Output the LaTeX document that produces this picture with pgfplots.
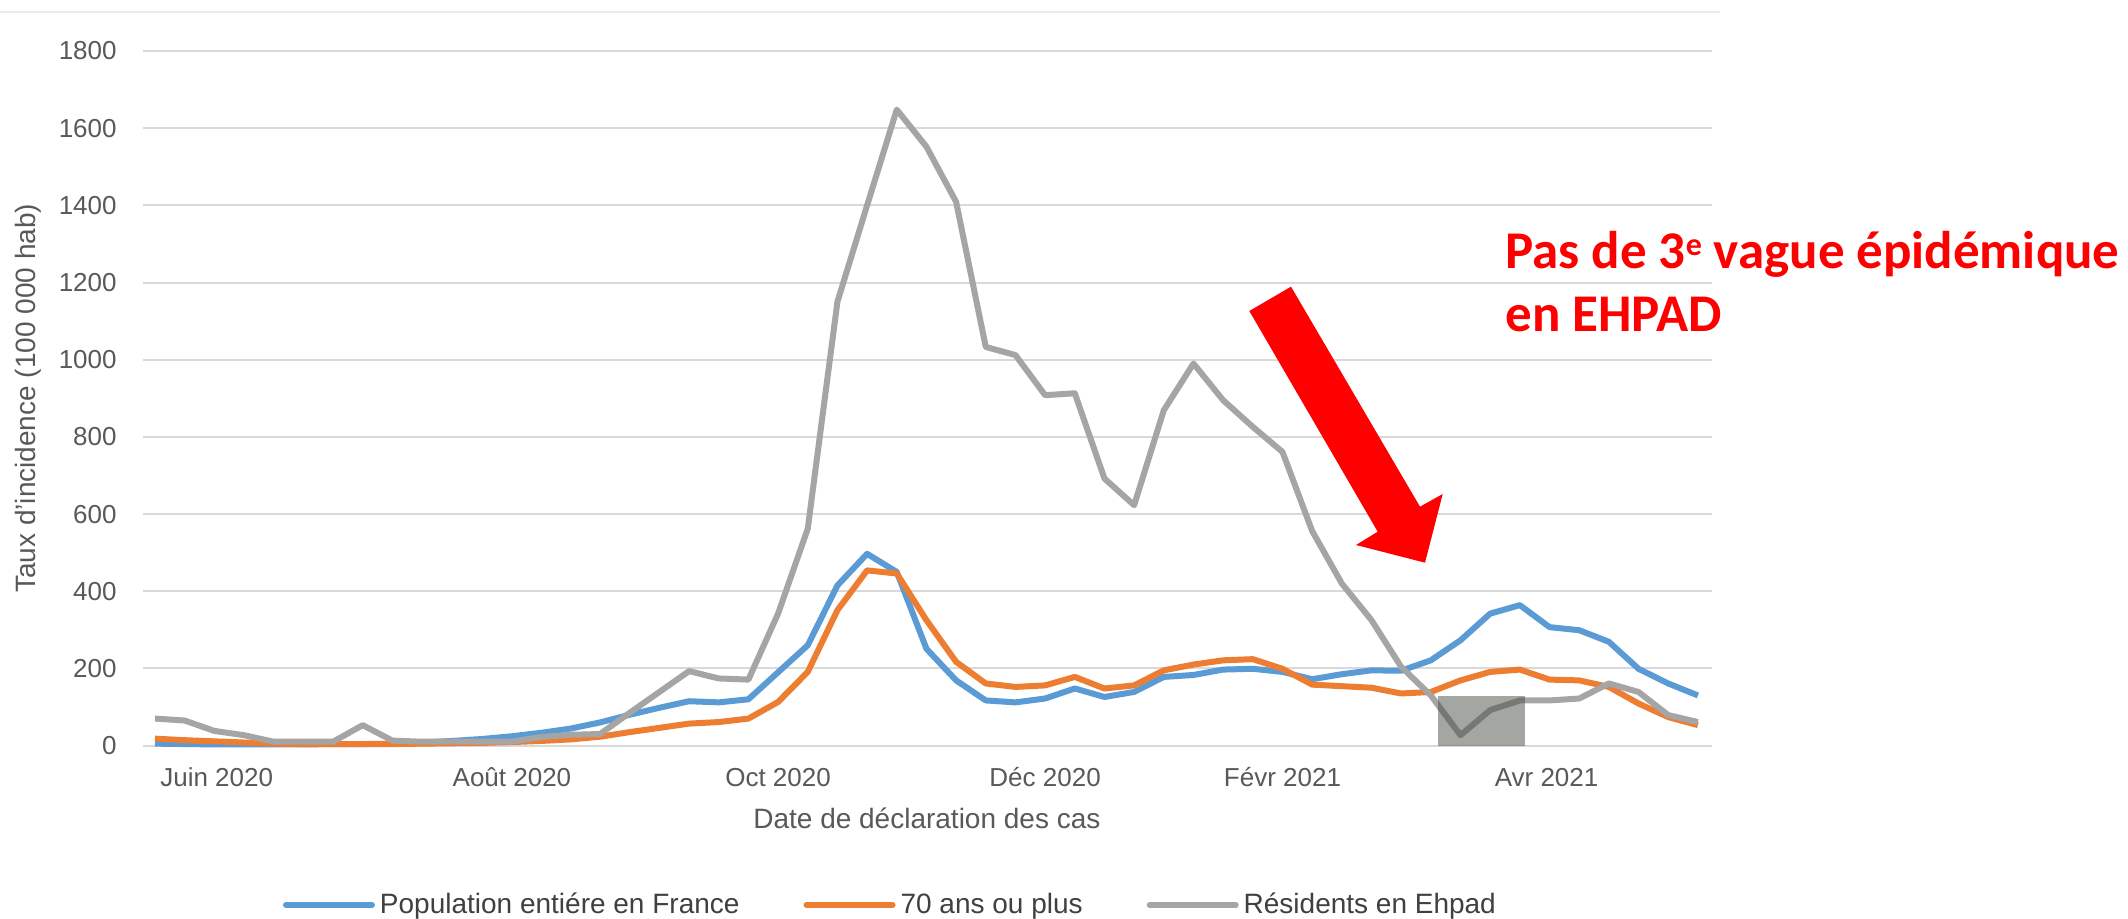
\documentclass[border=0pt]{standalone}
\usepackage{fontspec}
\setmainfont{Liberation Sans}
\newfontfamily\carlito{Carlito}
\usepackage{pgfplots}
\pgfplotsset{compat=1.18}
\usepackage{pgfplotstable}

\definecolor{cblue}{HTML}{5B9BD5}
\definecolor{corange}{HTML}{ED7D31}
\definecolor{cgray}{HTML}{A5A5A5}
\definecolor{ctext}{HTML}{595959}
\definecolor{clegend}{HTML}{404040}
\definecolor{cgrid}{HTML}{D9D9D9}
\definecolor{cbox}{rgb}{0.28,0.29,0.25}

\pgfplotstableread{
k blue orange gray
0 5 18 70
1 4 14 65
2 3 11 38
3 3 8 27
4 3 5 10
5 3 4 10
6 4 4 10
7 4 4 53
8 5 4 13
9 8 5 10
10 12 6 10
11 17 7 10
12 24 9 10
13 33 12 22
14 44 16 28
15 60 23 30
16 80 35 85
17 98 46 139
18 115 57 193
19 112 61 174
20 120 70 171
21 190 113 342
22 260 191 562
23 415 351 1150
24 497 454 1400
25 450 446 1648
26 251 325 1552
27 169 217 1409
28 117 161 1033
29 112 152 1012
30 122 156 908
31 148 178 913
32 126 148 692
33 139 156 623
34 178 195 869
35 183 210 990
36 197 221 895
37 199 224 826
38 191 199 761
39 172 158 556
40 185 154 420
41 195 150 325
42 194 135 204
43 221 139 130
44 273 169 27
45 342 191 92
46 364 197 117
47 307 171 117
48 299 169 122
49 269 152 161
50 199 109 139
51 161 74 79
52 130 53 61
}\datatable

\begin{document}
\begin{tikzpicture}
\useasboundingbox (-71.5pt,-86.7pt) rectangle (992.5pt,372.8pt);
\fill[white] (-71.5pt,-86.7pt) rectangle (992.5pt,372.8pt);
\begin{axis}[
  at={(0pt,0pt)}, anchor=south west,
  scale only axis, width=784.7pt, height=347.3pt,
  xmin=-0.4044, xmax=52.49, ymin=0, ymax=1800,
  clip=false,
  axis line style={draw=none},
  major tick style={draw=none}, minor tick style={draw=none},
  ytick={0,200,...,1800},
  xtick={2.08,12.03,21,30,38,46.9},
  xticklabels={Juin 2020, Août 2020, Oct 2020, Déc 2020, Févr 2021, Avr 2021},
  ymajorgrids, grid style={cgrid, line width=1pt},
  /pgf/number format/assume math mode=true,
  /pgf/number format/1000 sep={},
  tick label style={font=\fontsize{13}{15}\selectfont, text=ctext},
  yticklabel style={anchor=east, inner sep=0pt, xshift=-13pt},
  xticklabel style={anchor=base, inner sep=0pt, yshift=-20.5pt},
  xlabel={Date de déclaration des cas},
  xlabel style={at={(axis description cs:0.4995,-0.1042)}, anchor=center, font=\fontsize{14}{16}\selectfont, text=ctext},
  ylabel={Taux d'incidence (100 000 hab)},
  ylabel style={at={(axis description cs:-0.0733,0.5)}, anchor=center, font=\fontsize{14}{16}\selectfont, text=ctext},
  legend columns=3,
  legend style={at={(axis description cs:0.0892,-0.2295)}, anchor=west, draw=none, fill=none,
    inner sep=0pt, outer sep=0pt, font=\fontsize{14}{16}\selectfont, text=clegend,
    nodes={inner sep=0pt},
    /tikz/every odd column/.append style={column sep=2.5pt},
    /tikz/every even column/.append style={column sep=32pt}},
  legend image code/.code={\draw[#1, line cap=round] (0pt,0pt) -- (43pt,0pt);},
]
\addplot[cblue, line width=3pt, line join=round] table[x=k,y=blue]{\datatable};
\addlegendentry{Population entiére en France}
\addplot[corange, line width=3pt, line join=round] table[x=k,y=orange]{\datatable};
\addlegendentry{70 ans ou plus}
\addplot[cgray, line width=3pt, line join=round] table[x=k,y=gray]{\datatable};
\addlegendentry{Résidents en Ehpad}
\fill[cbox, fill opacity=0.49] (axis cs:43.25,0) rectangle (axis cs:46.17,128);
\end{axis}
\begin{scope}[shift={(-71.5pt,372.8pt)}, x=0.5pt, y=-0.5pt]
\draw[black!8, line width=0.6pt] (0,12) -- (1720,12);
\fill[red] (1249.3,311) -- (1291,286.7) -- (1420,506.7) -- (1442.7,494) -- (1425,562.7) -- (1356,545) -- (1377.7,531.7) -- cycle;
\node[anchor=base west, inner sep=0pt, text=red, font=\carlito\bfseries\fontsize{26.5}{32}\selectfont] at (1505,269) {Pas de 3\raisebox{6.7pt}{\fontsize{16}{19}\selectfont e} vague épidémique};
\node[anchor=base west, inner sep=0pt, text=red, font=\carlito\bfseries\fontsize{26.5}{32}\selectfont] at (1505,332) {en EHPAD};
\end{scope}
\end{tikzpicture}
\end{document}
